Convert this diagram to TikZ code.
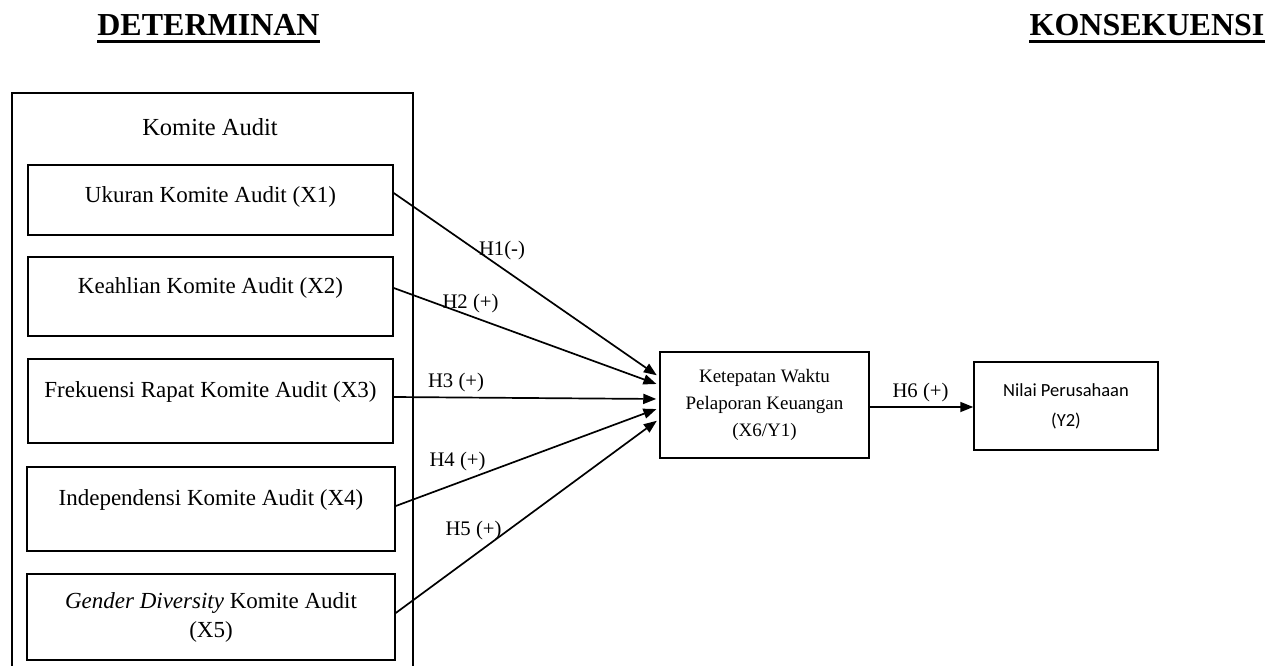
\documentclass[tikz,border=0pt]{standalone}
\usepackage{fontspec}
\setmainfont{Liberation Serif}
\newfontfamily\calibri{Carlito}
\usetikzlibrary{arrows.meta,calc}
\begin{document}
\begin{tikzpicture}[x=1pt,y=-1pt,
  box/.style={draw,line width=1.5pt,inner sep=0pt,align=center},
  varbox/.style={box,font=\fontsize{23}{29}\selectfont},
  hyp/.style={font=\fontsize{20.7}{24}\selectfont,anchor=base,inner sep=0pt},
  link/.style={line width=1.7pt,-{Triangle[length=13pt,width=10pt]},shorten >=3pt},
  head/.style={font=\fontsize{32}{36}\selectfont\bfseries,anchor=base,inner sep=0pt}]
\useasboundingbox (0,0) rectangle (1286,665);

% headings
\node[head] (det) at (208.5,35) {DETERMINAN};
\draw[line width=3pt] ([yshift=-6pt]det.base west) -- ([yshift=-6pt]det.base east);
\node[head] (kon) at (1147,35) {KONSEKUENSI};
\draw[line width=3pt] ([yshift=-6pt]kon.base west) -- ([yshift=-6pt]kon.base east);

% outer group box (bottom edge lies below the page)
\node[box,minimum width=401pt,minimum height=575pt] (grp) at (212.5,380.5) {};
\node[font=\fontsize{24.5}{28}\selectfont,anchor=base,inner sep=0pt] (grpt) at (210,135) {Komite Audit};

% variable boxes
\node[varbox,minimum width=365pt,minimum height=70pt,text height=16pt,text depth=12pt] (x1) at (210.5,200) {Ukuran Komite Audit (X1)};
\node[varbox,minimum width=365pt,minimum height=79pt,text height=16pt,text depth=23pt] (x2) at (210.5,296.5) {Keahlian Komite Audit (X2)};
\node[varbox,minimum width=365pt,minimum height=84pt,text height=16pt,text depth=24pt] (x3) at (210.5,401) {Frekuensi Rapat Komite Audit (X3)};
\node[varbox,minimum width=368pt,minimum height=84pt,text height=16pt,text depth=24pt] (x4) at (211,509) {Independensi Komite Audit (X4)};
\node[varbox,minimum width=368pt,minimum height=86pt] (x5) at (211,617) {\textit{Gender Diversity} Komite Audit\\(X5)};

% mediator and outcome
\node[box,minimum width=209pt,minimum height=106pt,font=\fontsize{19}{27}\selectfont] (k) at (764.5,405) {Ketepatan Waktu\\Pelaporan Keuangan\\(X6/Y1)};
\node[box,minimum width=184pt,minimum height=88pt,font=\calibri\fontsize{18.5}{30}\selectfont] (n) at (1066,406) {Nilai Perusahaan\\(Y2)};

% connectors
\draw[link] ([yshift=7pt]x1.east) -- ([yshift=28pt]k.west);
\draw[link] ([yshift=8.5pt]x2.east) -- ([yshift=20pt]k.west);
\draw[link] ([yshift=4pt]x3.east) -- ([yshift=6pt]k.west);
\draw[link] ([yshift=3pt]x4.east) -- ([yshift=-3pt]k.west);
\draw[link] ([yshift=4pt]x5.east) -- ([yshift=-14pt]k.west);
\draw[link,shorten >=0pt] ([yshift=-2pt]k.east) -- ([yshift=-2pt]k.east -| n.west);

% labels
\node[hyp] (h1) at (502,255) {H1(-)};
\node[hyp] (h2) at (470.5,308) {H2 (+)};
\node[hyp] (h3) at (456,387) {H3 (+)};
\node[hyp] (h4) at (457.5,466) {H4 (+)};
\node[hyp] (h5) at (473.5,535) {H5 (+)};
\node[hyp] (h6) at (920.5,397) {H6 (+)};
\end{tikzpicture}
\end{document}
